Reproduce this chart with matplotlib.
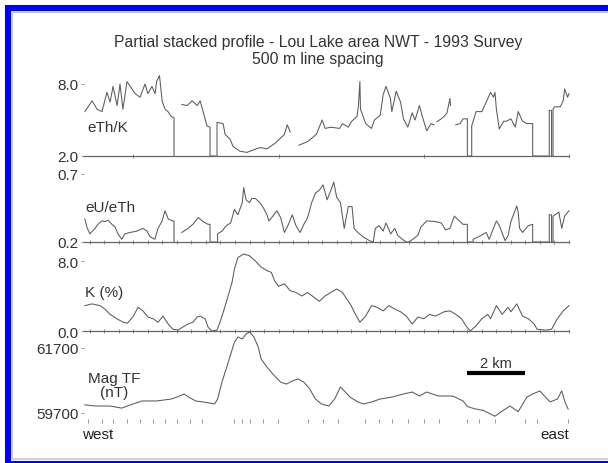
import numpy as np
import matplotlib
matplotlib.use("Agg")
import matplotlib.pyplot as plt
from matplotlib.patches import Rectangle

plt.rcParams['font.family'] = ['Liberation Sans', 'DejaVu Sans']

nan = np.nan

# distance along the line (km from west end) and readings for each profile
eth_k_km = [0.03, 0.28, 0.45, 0.62, 0.79, 0.9, 1.0, 1.14, 1.24, 1.34, 1.48, 1.65, 1.76, 1.93,
            2.1, 2.2, 2.34, 2.45, 2.5, 2.6, 2.69, 2.79, 2.89, 3.0, 3.1, 3.1, 3.2,
            3.37, 3.55, 3.72, 3.9, 4.0, 4.1, 4.24, 4.34, 4.34, 4.58, 4.58, 4.79, 4.86, 5.03,
            5.13, 5.37, 5.61, 5.82, 6.06, 6.3, 6.6, 6.9, 7.0, 7.1, 7.2,
            7.4, 7.7, 8.0, 8.2, 8.3, 8.5, 8.8, 8.9, 9.1, 9.2, 9.4, 9.45, 9.5, 9.52, 9.7,
            9.9, 10.0, 10.2, 10.3, 10.4, 10.55, 10.6, 10.75, 10.9, 11.0, 11.15, 11.3, 11.4,
            11.55, 11.65, 11.8, 11.95, 12.05, 12.1,
            12.15, 12.3, 12.4, 12.5, 12.6, 12.62, 12.7,
            12.8, 12.95, 13.05, 13.2, 13.2, 13.35, 13.35, 13.5, 13.7, 13.85, 14.0, 14.1,
            14.15, 14.2, 14.3, 14.45, 14.55, 14.7, 14.85, 14.95, 15.1, 15.25, 15.45, 15.45,
            16.02, 16.02, 16.1, 16.1, 16.15, 16.15, 16.2, 16.4, 16.5, 16.55, 16.65, 16.7]
eth_k = [5.7, 6.6, 5.9, 5.7, 7.3, 6.5, 7.8, 6.2, 8.0, 5.9, 8.2, 7.6, 7.2, 6.9,
         8.0, 7.2, 7.8, 7.2, 8.2, 8.7, 6.6, 5.9, 5.7, 5.3, 5.2, 2.0, nan,
         6.3, 6.2, 6.6, 6.2, 6.6, 5.7, 4.5, 4.4, 2.0, 2.0, 4.8, 4.7, 3.8, 3.4,
         2.8, 2.4, 2.3, 2.5, 2.7, 2.6, 3.1, 3.8, 4.6, 4.0, nan,
         2.9, 3.2, 3.8, 5.0, 4.3, 4.4, 4.3, 4.7, 4.4, 4.85, 5.3, 6.2, 8.2, 5.9, 4.7,
         4.3, 5.0, 5.4, 7.1, 7.8, 6.8, 5.7, 7.4, 6.5, 5.1, 4.4, 5.6, 5.0,
         6.2, 5.3, 4.1, 4.7, 4.6, nan,
         4.85, 5.1, 5.3, 5.6, 6.8, 6.2, nan,
         4.6, 4.7, 5.1, 5.1, 2.0, 2.0, 4.5, 5.7, 5.7, 6.5, 7.3, 6.9,
         7.3, 5.9, 4.25, 4.9, 4.9, 5.1, 4.4, 5.7, 4.9, 4.7, 4.7, 2.0,
         2.0, 5.8, 5.8, 2.0, 2.0, 5.9, 6.1, 6.1, 6.6, 7.6, 6.9, 7.2]

eu_eth_km = [0.03, 0.1, 0.2, 0.38, 0.48, 0.62, 0.72, 0.83, 0.96, 1.07, 1.17, 1.3, 1.41, 1.58,
             1.82, 2.03, 2.17, 2.27, 2.44, 2.55, 2.69, 2.79, 2.9, 3.05, 3.1, 3.1, 3.2,
             3.37, 3.58, 3.75, 3.93, 4.1, 4.27, 4.34, 4.34, 4.6, 4.6, 4.75, 4.9, 5.05, 5.18,
             5.3, 5.45, 5.5, 5.58, 5.7, 5.78, 5.9, 6.05, 6.18, 6.3, 6.37, 6.5, 6.64, 6.77,
             6.9, 7.04, 7.17, 7.3, 7.44, 7.57, 7.7, 7.84, 7.97, 8.1, 8.23, 8.37, 8.5, 8.6,
             8.7, 8.83, 8.9, 8.96, 9.1, 9.23, 9.3, 9.43, 9.63, 9.83, 9.96, 10.03, 10.16,
             10.3, 10.4, 10.56, 10.7, 10.8, 10.96, 11.1, 11.2, 11.5, 11.6, 11.8, 12.1, 12.3,
             12.45, 12.6, 12.75, 12.95, 13.05, 13.2, 13.2, 13.4, 13.4, 13.6, 13.85, 13.95,
             14.1, 14.2, 14.3, 14.5, 14.6, 14.7, 14.9, 14.95, 15.0, 15.1, 15.3, 15.45, 15.45,
             16.02, 16.02, 16.1, 16.1, 16.15, 16.15, 16.35, 16.45, 16.55, 16.7]
eu_eth = [0.37, 0.31, 0.26, 0.30, 0.33, 0.355, 0.35, 0.36, 0.33, 0.31, 0.26, 0.22, 0.26, 0.27,
          0.28, 0.30, 0.28, 0.24, 0.22, 0.30, 0.355, 0.43, 0.37, 0.355, 0.355, 0.2, nan,
          0.27, 0.30, 0.33, 0.38, 0.35, 0.33, 0.33, 0.2, 0.2, 0.26, 0.28, 0.32, 0.34, 0.44,
          0.40, 0.49, 0.60, 0.51, 0.49, 0.52, 0.52, 0.49, 0.45, 0.40, 0.355, 0.39, 0.43, 0.38,
          0.27, 0.33, 0.40, 0.32, 0.27, 0.33, 0.38, 0.49, 0.56, 0.58, 0.62, 0.51, 0.58, 0.64,
          0.53, 0.49, 0.39, 0.30, 0.46, 0.46, 0.30, 0.27, 0.235, 0.21, 0.2, 0.30, 0.32,
          0.28, 0.34, 0.26, 0.30, 0.25, 0.22, 0.2, 0.2, 0.25, 0.31, 0.355, 0.35, 0.34,
          0.29, 0.30, 0.39, 0.35, 0.33, 0.33, 0.2, 0.2, 0.22, 0.24, 0.27, 0.22,
          0.30, 0.355, 0.32, 0.21, 0.245, 0.35, 0.465, 0.42, 0.30, 0.27, 0.32, 0.33, 0.2,
          0.2, 0.40, 0.40, 0.2, 0.2, 0.39, 0.42, 0.30, 0.39, 0.43]

k_km = [0.03, 0.28, 0.55, 0.72, 0.9, 1.13, 1.35, 1.5, 1.7, 1.86, 2.03, 2.2, 2.38, 2.55, 2.72,
        2.9, 3.06, 3.24, 3.4, 3.58, 3.75, 3.9, 4.0, 4.17, 4.27, 4.4, 4.58, 4.68, 4.8, 4.9,
        4.98, 5.1, 5.18, 5.3, 5.5, 5.7, 5.9, 6.1, 6.3, 6.45, 6.57, 6.7, 6.9, 7.1, 7.3, 7.5,
        7.7, 7.9, 8.1, 8.3, 8.5, 8.7, 8.9, 9.1, 9.2, 9.3, 9.5, 9.7, 9.9, 10.1, 10.3, 10.5,
        10.7, 10.9, 11.1, 11.3, 11.5, 11.7, 11.9, 12.1, 12.4, 12.6, 12.8, 13.0, 13.15, 13.3,
        13.5, 13.7, 13.9, 14.0, 14.2, 14.4, 14.6, 14.7, 14.9, 15.1, 15.3, 15.5, 15.6, 15.9,
        16.1, 16.3, 16.5, 16.7]
k_pct = [2.9, 3.1, 2.9, 2.5, 1.9, 1.4, 1.0, 0.9, 1.7, 2.7, 2.3, 1.6, 1.4, 1.0, 1.7,
         0.8, 0.2, 0.1, 0.45, 0.8, 1.0, 1.6, 1.7, 1.4, 0.45, 0.0, 0.1, 1.0, 2.2, 3.3,
         4.2, 5.6, 7.1, 8.4, 8.8, 8.6, 8.0, 7.3, 6.9, 6.7, 5.7, 5.1, 5.4, 4.6, 4.4, 4.0,
         4.4, 3.9, 3.4, 4.0, 4.4, 4.8, 4.4, 3.4, 2.9, 2.2, 1.0, 1.7, 2.9, 2.7, 2.3, 2.9,
         2.5, 2.2, 1.7, 0.8, 1.6, 1.4, 1.9, 1.7, 2.2, 2.3, 1.9, 1.4, 0.6, 0.0,
         0.6, 1.4, 1.9, 1.4, 2.9, 1.9, 2.7, 2.2, 3.1, 1.7, 1.4, 0.8, 0.2, 0.1,
         0.2, 1.4, 2.3, 2.9]

mag_km = [0.03, 0.4, 0.9, 1.3, 1.6, 2.0, 2.5, 3.0, 3.2, 3.45, 3.6, 3.85, 4.1, 4.5, 4.6, 4.75,
          4.95, 5.18, 5.3, 5.45, 5.58, 5.7, 5.85, 6.0, 6.1, 6.3, 6.5, 6.77, 6.97, 7.17, 7.37,
          7.57, 7.77, 7.97, 8.17, 8.43, 8.63, 8.83, 8.96, 9.16, 9.43, 9.63, 9.9, 10.2, 10.6,
          11.0, 11.3, 11.55, 11.8, 12.2, 12.7, 13.05, 13.2, 13.45, 13.75, 14.15, 14.4, 14.67,
          14.95, 15.25, 15.45, 15.7, 15.85, 16.05, 16.3, 16.45, 16.56, 16.67]
mag_nt = [59950, 59915, 59915, 59850, 59950, 60070, 60070, 60130, 60190, 60285, 60190, 60070,
          60040, 59980, 60130, 60650, 61210, 61880, 62040, 61980, 62130, 62190, 62040, 61730,
          61360, 61115, 60900, 60650, 60590, 60685, 60750, 60650, 60440, 60130, 59980, 59915,
          60130, 60500, 60380, 60190, 60040, 59980, 60040, 60130, 60190, 60285, 60345, 60225,
          60345, 60225, 60220, 60070, 59900, 59830, 59780, 59600, 59760, 59915, 59740, 60190,
          60285, 60380, 60225, 60040, 60130, 60380, 60040, 59820]

# flight-line crossings marked under the mag profile
line_marks_km = [0.14, 0.62, 1.0, 1.48, 1.93, 2.38, 2.79, 3.2, 3.65, 4.06, 5.18, 5.44, 5.71,
                 6.18, 6.67, 7.7, 8.23, 8.74, 9.69, 10.16, 10.62, 11.15, 11.69, 12.22, 13.2,
                 13.6, 14.15, 15.2, 15.6, 16.66]

title_text = "Partial stacked profile - Lou Lake area NWT - 1993 Survey\n500 m line spacing"
profile_names = ["eTh/K", "eU/eTh", "K (%)", "Mag TF\n(nT)"]
y_ranges = [(2.0, 8.0), (0.2, 0.7), (0.0, 8.0), (59700, 61700)]
y_labels = [["2.0", "8.0"], ["0.2", "0.7"], ["0.0", "8.0"], ["59700", "61700"]]

W, H = 608, 464
X0, X1 = 84, 569
LINE = "#5a5a5a"
TXT = "#333333"

fig = plt.figure(figsize=(W / 100, H / 100), dpi=100)
fig.patch.set_facecolor("white")


def px_rect(x, y, w, h, color):
    fig.add_artist(Rectangle((x / W, 1 - (y + h) / H), w / W, h / H,
                             transform=fig.transFigure, facecolor=color,
                             edgecolor="none", zorder=10))


# window frame
px_rect(5, 6, W - 5, 6, "#0000ff")
px_rect(5, 6, 6, H - 6, "#0000ff")
px_rect(5, 462, W - 5, 2, "#0000ff")
px_rect(11, 12, 2, 449, "#c8c8c8")
px_rect(11, 12, W - 11, 2, "#c8c8c8")
px_rect(11, 459, W - 11, 2, "#d0d0d0")


def panel(top, bottom):
    ax = fig.add_axes([X0 / W, 1 - bottom / H, (X1 - X0) / W, (bottom - top) / H])
    ax.set_xlim(0, 16.7)
    ax.patch.set_alpha(0)
    for s in ["top", "right", "left"]:
        ax.spines[s].set_visible(False)
    ax.spines["bottom"].set_color("#666666")
    ax.spines["bottom"].set_linewidth(0.9)
    ax.tick_params(axis="y", length=2, width=0.6, color="#888888", pad=2,
                   labelsize=11, labelcolor=TXT)
    ax.tick_params(axis="x", labelbottom=False, direction="inout", length=3,
                   width=0.6, color="#777777")
    return ax


panel_px = [(85, 157), (175, 243), (262, 332), (349, 414)]
series = [(eth_k_km, eth_k), (eu_eth_km, eu_eth), (k_km, k_pct), (mag_km, mag_nt)]
axes = []
for i, (top, bottom) in enumerate(panel_px):
    ax = panel(top, bottom)
    ax.set_ylim(*y_ranges[i])
    ax.set_yticks(y_ranges[i])
    ax.set_yticklabels(y_labels[i])
    xs, ys = series[i]
    ax.plot(xs, ys, color=LINE, lw=0.75, clip_on=False)
    axes.append(ax)

# baseline ticks
axes[0].set_xticks([1.7, 6.7, 11.7, 16.7])
for ax in axes[1:3]:
    ax.set_xticks(np.arange(0.2, 16.75, 0.5))

# mag panel: no baseline, only the crossing marks
axm = axes[3]
axm.spines["bottom"].set_position(("outward", 4))
axm.spines["bottom"].set_visible(False)
axm.set_xticks(line_marks_km)
axm.tick_params(axis="x", direction="out", length=3, width=0.6, color="#888888")

# scale bar
axm.plot([13.2, 15.2], [60930, 60930], color="black", lw=3, solid_capstyle="butt",
         clip_on=False)
axm.text(14.2, 61250, "2 km", ha="center", va="center", fontsize=10.5, color=TXT)

# panel names
name_pos = [(87, 128, "left"), (85, 208, "left"), (85, 293, "left"), (114, 386, "center")]
for name, (x, y, ha) in zip(profile_names, name_pos):
    fig.text(x / W, 1 - y / H, name, ha=ha, va="center", fontsize=11, color=TXT,
             linespacing=1.05, multialignment="center")

fig.text(318 / W, 1 - 51 / H, title_text, ha="center", va="center", fontsize=11.3,
         color=TXT, linespacing=1.15)
fig.text(82 / W, 1 - 435 / H, "west", ha="left", va="center", fontsize=11,
         color="#222222")
fig.text(569 / W, 1 - 435 / H, "east", ha="right", va="center", fontsize=11,
         color="#222222")

fig.savefig("out.png", dpi=100, facecolor="white")
